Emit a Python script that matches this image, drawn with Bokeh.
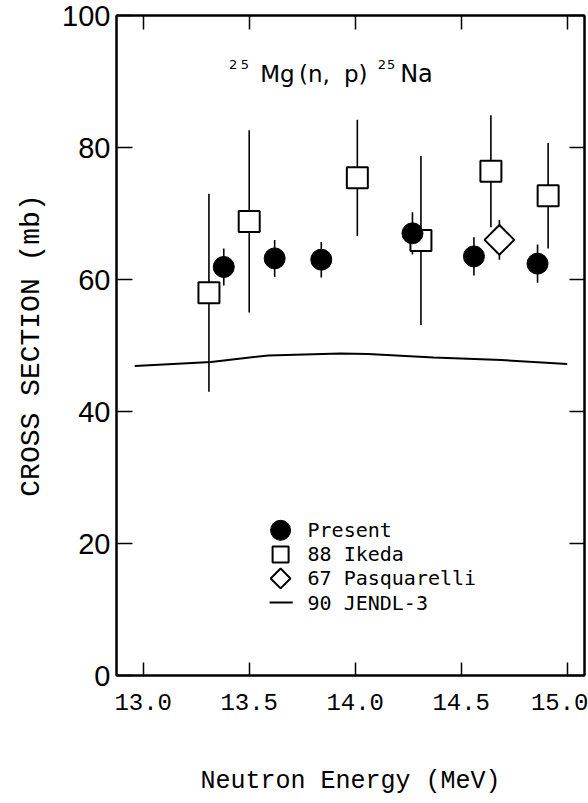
import numpy as np
from bokeh.plotting import figure
from bokeh.models import (Range1d, LinearAxis, FixedTicker, CustomJSTickFormatter,
                          PrintfTickFormatter, Label)
from bokeh.embed import file_html
from bokeh.resources import INLINE

# ---- data: 25Mg(n,p)25Na cross section (mb) vs neutron energy (MeV) ----
present_e = [13.38, 13.62, 13.84, 14.27, 14.56, 14.86]
present_xs = [61.9, 63.2, 63.0, 67.0, 63.5, 62.4]
present_err = [2.8, 2.8, 2.7, 3.2, 2.9, 2.9]

ikeda_e = [13.31, 13.50, 14.01, 14.31, 14.64, 14.91]
ikeda_xs = [58.0, 68.8, 75.4, 65.9, 76.4, 72.7]
ikeda_err = [15.0, 13.8, 8.8, 12.8, 8.5, 8.0]

pasq_e = [14.68]
pasq_xs = [66.0]
pasq_err = [3.0]

jendl_e = [12.96, 13.32, 13.59, 13.93, 14.06, 14.37, 14.69, 15.00]
jendl_xs = [46.9, 47.5, 48.5, 48.8, 48.7, 48.2, 47.8, 47.2]

x_ticks = [13.0, 13.5, 14.0, 14.5, 15.0]
y_ticks = [0, 20, 40, 60, 80, 100]

legend_labels = ["Present", "88 Ikeda", "67 Pasquarelli", "90 JENDL-3"]

MONO = "Liberation Mono"
SANS_MONO = "DejaVu Sans Mono"

p = figure(width=588, height=803, output_backend="svg", toolbar_location=None,
           x_range=Range1d(12.874, 15.0815), y_range=Range1d(0, 100),
           min_border_left=116, min_border_right=4, min_border_top=15,
           min_border_bottom=128, background_fill_color="white",
           border_fill_color="white")
p.xgrid.visible = False
p.ygrid.visible = False
p.outline_line_color = "black"
p.outline_line_width = 2

# bottom axis
xa = p.xaxis[0]
xa.ticker = FixedTicker(ticks=x_ticks, minor_ticks=[])
xa.formatter = PrintfTickFormatter(format="%.1f")
xa.major_tick_in = 13
xa.major_tick_out = 0
xa.major_tick_line_width = 1.5
xa.axis_line_width = 2
xa.major_label_text_font = MONO
xa.major_label_text_font_size = "24px"
xa.major_label_text_color = "black"
xa.major_label_standoff = 18
xa.axis_label = "Neutron Energy (MeV)"
xa.axis_label_text_font = MONO
xa.axis_label_text_font_size = "25px"
xa.axis_label_text_font_style = "normal"
xa.axis_label_text_color = "black"
xa.axis_label_standoff = 54

# left axis
ya = p.yaxis[0]
ya.ticker = FixedTicker(ticks=y_ticks, minor_ticks=[])
ya.major_tick_in = 16
ya.major_tick_out = 0
ya.major_tick_line_width = 1.5
ya.axis_line_width = 2
ya.major_label_text_font = "Liberation Sans"
ya.major_label_text_font_size = "29px"
ya.major_label_text_color = "black"
ya.major_label_standoff = 6
ya.axis_label = "CROSS SECTION (mb)"
ya.axis_label_text_font = MONO
ya.axis_label_text_font_size = "28px"
ya.axis_label_text_font_style = "normal"
ya.axis_label_text_color = "black"
ya.axis_label_standoff = 12

# unlabelled frame axes on top and right
blank = CustomJSTickFormatter(code="return ''")
top = LinearAxis(ticker=FixedTicker(ticks=x_ticks, minor_ticks=[]), formatter=blank,
                 major_tick_in=14, major_tick_out=0, major_tick_line_width=1.5,
                 axis_line_width=2, major_label_standoff=0,
                 major_label_text_font_size="1px")
p.add_layout(top, "above")
right = LinearAxis(ticker=FixedTicker(ticks=y_ticks, minor_ticks=[]), formatter=blank,
                   major_tick_in=15, major_tick_out=0, major_tick_line_width=1.5,
                   axis_line_width=2, major_label_standoff=0,
                   major_label_text_font_size="1px")
p.add_layout(right, "right")

# JENDL-3 evaluation
p.line(jendl_e, jendl_xs, line_color="black", line_width=2)

# error bars
def bars(e, v, err, w):
    lo = [a - b for a, b in zip(v, err)]
    hi = [a + b for a, b in zip(v, err)]
    p.segment(x0=e, y0=lo, x1=e, y1=hi, line_color="black", line_width=w)

bars(ikeda_e, ikeda_xs, ikeda_err, 1.6)
bars(present_e, present_xs, present_err, 1.6)
bars(pasq_e, pasq_xs, pasq_err, 1.6)

# data points
p.scatter(ikeda_e, ikeda_xs, marker="square", size=21, fill_color="white",
          line_color="black", line_width=2)
p.scatter(present_e, present_xs, marker="circle", size=21, fill_color="black",
          line_color="black")
p.scatter(pasq_e, pasq_xs, marker="square", angle=np.pi / 4, size=21,
          fill_color="white", line_color="black", line_width=2)

# reaction title, built from pieces so the mass numbers sit as superscripts
def put(txt, x, y, size, font="DejaVu Sans"):
    p.add_layout(Label(x=x, y=y, text=txt, text_font=font, text_font_size=size,
                       text_align="left", text_baseline="alphabetic",
                       text_color="black"))

sup_y, base_y = 92.6, 91.2
put("2", 13.405, sup_y, "13px")
put("5", 13.460, sup_y, "13px")
put("Mg", 13.552, base_y, "23px")
put("(n,", 13.735, base_y, "23px")
put("p)", 13.947, base_y, "23px")
put("2", 14.106, sup_y, "13px")
put("5", 14.150, sup_y, "13px")
put("Na", 14.212, base_y, "24px")

# key
key_x, key_text_x, key_top, key_step = 13.648, 13.775, 22.0, 3.65
rows = [key_top - i * key_step for i in range(4)]
p.scatter([key_x], [rows[0]], marker="circle", size=20, fill_color="black",
          line_color="black")
p.scatter([key_x], [rows[1]], marker="square", size=16, fill_color="white",
          line_color="black", line_width=2)
p.scatter([key_x], [rows[2]], marker="square", angle=np.pi / 4, size=14,
          fill_color="white", line_color="black", line_width=2)
p.segment(x0=[key_x - 0.052], y0=[rows[3]], x1=[key_x + 0.057], y1=[rows[3]],
          line_color="black", line_width=2)
for lab, yy in zip(legend_labels, rows):
    p.add_layout(Label(x=key_text_x, y=yy, text=lab, text_font=SANS_MONO,
                       text_font_size="20px", text_align="left",
                       text_baseline="middle", text_color="black"))

open("out.html", "w").write(file_html(p, INLINE))
